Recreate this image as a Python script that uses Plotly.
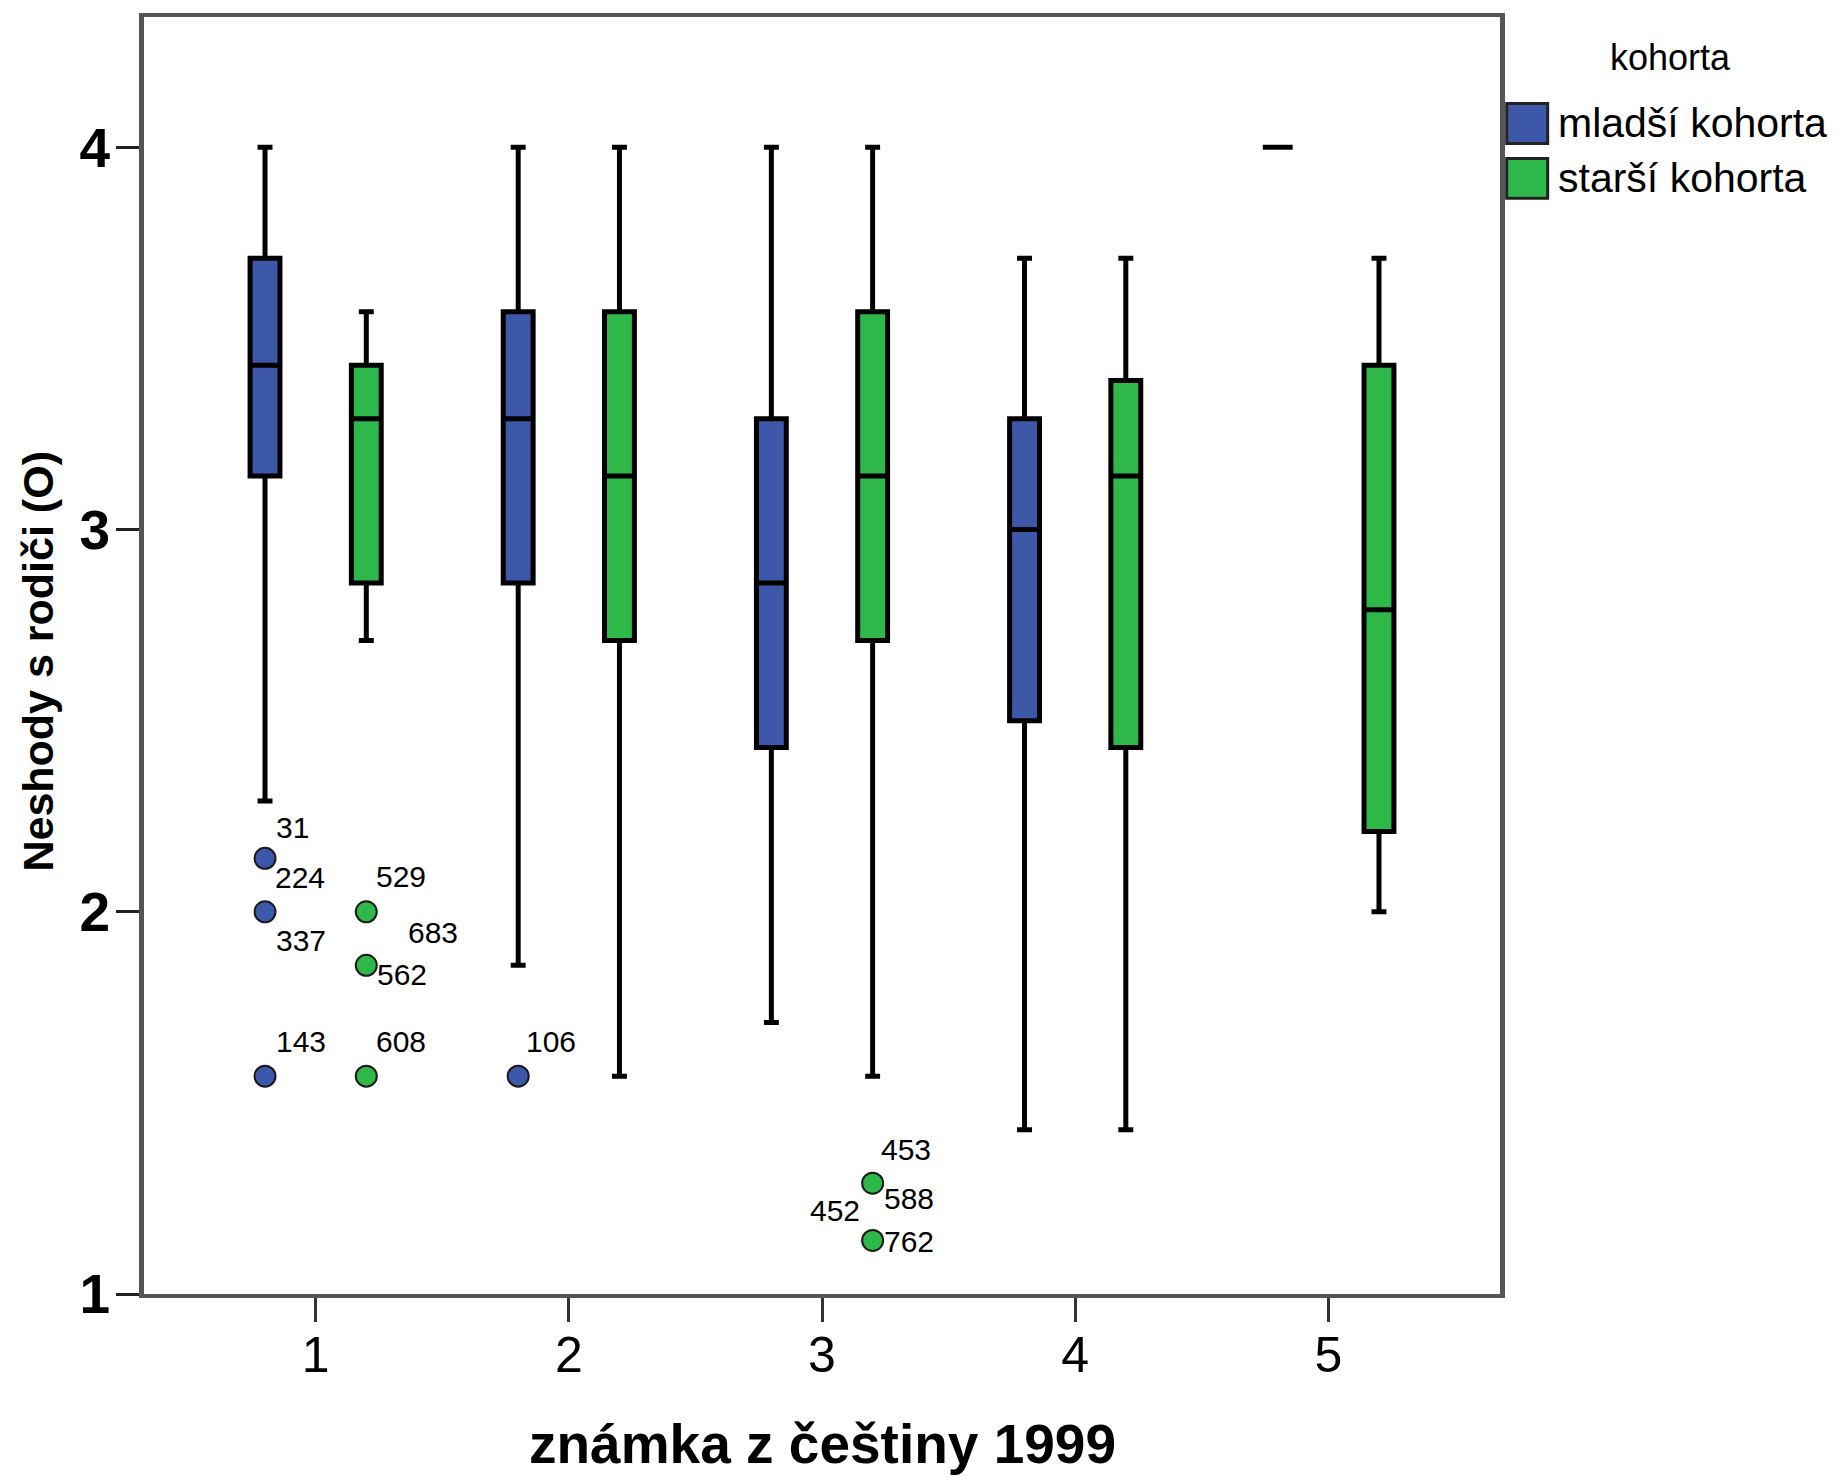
import plotly.graph_objects as go

# ---------------- data ----------------
grades = [1, 2, 3, 4, 5]

# mladší kohorta (blue)
ml_q1 = [3.14, 2.86, 2.43, 2.50, 4.00]
ml_med = [3.43, 3.29, 2.86, 3.00, 4.00]
ml_q3 = [3.71, 3.57, 3.29, 3.29, 4.00]
ml_low = [2.29, 1.86, 1.71, 1.43, 4.00]
ml_up = [4.00, 4.00, 4.00, 3.71, 4.00]

# starší kohorta (green)
st_q1 = [2.86, 2.71, 2.71, 2.43, 2.21]
st_med = [3.29, 3.14, 3.14, 3.14, 2.79]
st_q3 = [3.43, 3.57, 3.57, 3.39, 3.43]
st_low = [2.71, 1.57, 1.57, 1.43, 2.00]
st_up = [3.57, 4.00, 4.00, 3.71, 3.71]

# outliers
ml_out_grade = [1, 1, 1, 2]
ml_out_val = [2.14, 2.00, 1.57, 1.57]
st_out_grade = [1, 1, 1, 3, 3]
st_out_val = [2.00, 1.86, 1.57, 1.29, 1.14]

# outlier case labels
ml_lab_text = ["31", "224", "337", "143", "106"]
ml_lab_grade = [1, 1, 1, 1, 2]
ml_lab_val = [2.14, 2.14, 2.00, 1.57, 1.57]
st_lab_text = ["529", "683", "562", "608", "453", "588", "452", "762"]
st_lab_grade = [1, 1, 1, 1, 3, 3, 3, 3]
st_lab_val = [2.00, 2.00, 1.86, 1.57, 1.29, 1.29, 1.29, 1.14]

x_ticks = [1, 2, 3, 4, 5]
y_ticks = [1, 2, 3, 4]

cohorts = ["mladší kohorta", "starší kohorta"]
legend_title = "kohorta"
x_title = "známka z češtiny 1999"
y_title = "Neshody s rodiči (O)"

# ---------------- style ----------------
BLUE = "#3D57A9"
GREEN = "#2EB84A"
W, H = 1845, 1478
L, R, T, B = 143.5, 1500.3, 16.5, 1294.5
BOXGAP = 0.2
GROUPGAP = 0.705
OFF = (1 - BOXGAP) / 4  # group centre offset
FONT = "Liberation Sans, Arial, sans-serif"

# label pixel offsets (dx right, dy down)
ml_lab_off = [(27, -31), (35, 19), (36, 29), (36, -35), (33, -35)]
st_lab_off = [(35, -35), (67, 21), (36, 9), (35, -35), (33, -34), (36, 15), (-38, 27), (36, 1)]


def px(xp):
    return (xp - L) / (R - L)


def py(yp):
    return (B - yp) / (B - T)


fig = go.Figure()

for name, color, q1, med, q3, lo, up in [
    (cohorts[0], BLUE, ml_q1, ml_med, ml_q3, ml_low, ml_up),
    (cohorts[1], GREEN, st_q1, st_med, st_q3, st_low, st_up),
]:
    fig.add_trace(go.Box(
        name=name, x=grades, q1=q1, median=med, q3=q3,
        lowerfence=lo, upperfence=up,
        fillcolor=color, line=dict(color="#000000", width=5),
        whiskerwidth=0.5, offsetgroup=name, showlegend=False,
        boxpoints=False,
    ))

for grade, val, color, sign in [
    (ml_out_grade, ml_out_val, BLUE, -1),
    (st_out_grade, st_out_val, GREEN, 1),
]:
    fig.add_trace(go.Scatter(
        x=[g + sign * OFF for g in grade], y=val, mode="markers",
        marker=dict(size=21, color=color, line=dict(color="#1a1a1a", width=2)),
        showlegend=False, hoverinfo="skip",
    ))

annotations = []
for texts, grs, vals, offs, sign in [
    (ml_lab_text, ml_lab_grade, ml_lab_val, ml_lab_off, -1),
    (st_lab_text, st_lab_grade, st_lab_val, st_lab_off, 1),
]:
    for t, g, v, (dx, dy) in zip(texts, grs, vals, offs):
        annotations.append(dict(
            x=g + sign * OFF, y=v, xref="x", yref="y", text=t, showarrow=False,
            xshift=dx, yshift=-dy, xanchor="center", yanchor="middle",
            font=dict(family=FONT, size=30, color="#000"),
        ))

# axis titles
annotations.append(dict(
    x=px(822), y=py(1445), xref="paper", yref="paper", text="<b>" + x_title + "</b>",
    showarrow=False, xanchor="center", yanchor="middle",
    font=dict(family=FONT, size=55, color="#000"),
))
annotations.append(dict(
    x=px(37), y=py(661), xref="paper", yref="paper", text="<b>" + y_title + "</b>",
    showarrow=False, xanchor="center", yanchor="middle", textangle=-90,
    font=dict(family=FONT, size=43, color="#000"),
))

# legend (manual)
annotations.append(dict(
    x=px(1671), y=py(57), xref="paper", yref="paper", text=legend_title,
    showarrow=False, xanchor="center", yanchor="middle",
    font=dict(family=FONT, size=36, color="#000"),
))
shapes = []
for name, color, cy in [(cohorts[0], BLUE, 123), (cohorts[1], GREEN, 178)]:
    shapes.append(dict(
        type="rect", xref="paper", yref="paper",
        x0=px(1507), x1=px(1548), y0=py(cy + 20), y1=py(cy - 20),
        fillcolor=color, line=dict(color="#222222", width=3),
    ))
    annotations.append(dict(
        x=px(1556), y=py(cy), xref="paper", yref="paper", text=name,
        showarrow=False, xanchor="left", yanchor="middle",
        font=dict(family=FONT, size=41, color="#000"),
    ))

fig.update_layout(
    width=W, height=H,
    margin=dict(l=L, r=W - R, t=T, b=H - B, pad=0),
    paper_bgcolor="white", plot_bgcolor="white",
    boxmode="group", boxgap=BOXGAP, boxgroupgap=GROUPGAP,
    showlegend=False,
    annotations=annotations, shapes=shapes,
    font=dict(family=FONT, color="#000"),
)
fig.update_xaxes(
    range=[0.322, 5.678], tickvals=x_ticks, ticktext=[str(v) for v in x_ticks],
    showgrid=False, zeroline=False, showline=True, linecolor="#555555", linewidth=4,
    mirror=True, ticks="outside", ticklen=24, tickwidth=2.5, tickcolor="#333333",
    tickfont=dict(family=FONT, size=50, color="#000"), ticklabelstandoff=-10,
)
fig.update_yaxes(
    range=[1, 4.341], tickvals=y_ticks, ticktext=["<b>%d</b>" % v for v in y_ticks],
    showgrid=False, zeroline=False, showline=True, linecolor="#555555", linewidth=5,
    mirror=True, ticks="outside", ticklen=23, tickwidth=3, tickcolor="#222222",
    tickfont=dict(family=FONT, size=55, color="#000"), ticklabelstandoff=-5,
)

fig.write_html("out.html")
